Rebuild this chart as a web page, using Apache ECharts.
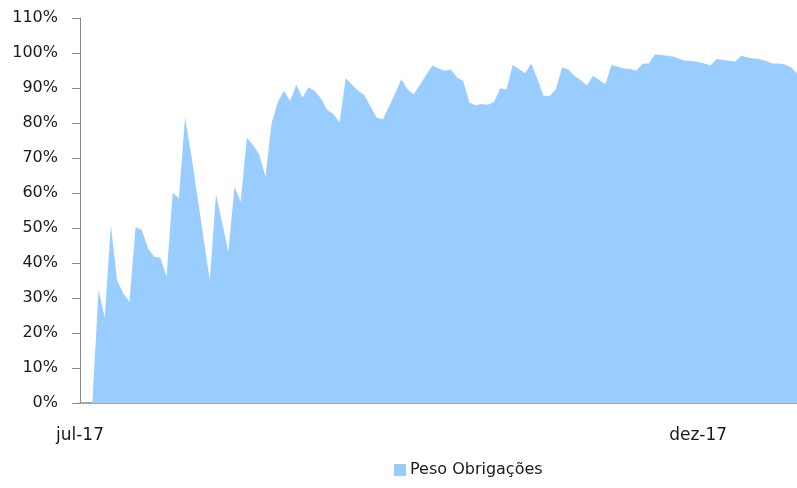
<!DOCTYPE html>
<html>
<head>
<meta charset="utf-8">
<script src="https://cdn.jsdelivr.net/npm/echarts@6/dist/echarts.min.js"></script>
<style>html,body{margin:0;padding:0;background:#fff}#c{width:797px;height:488px}</style>
</head>
<body>
<div id="c"></div>
<script>
const pesoObrigacoes = [
  0, 0, 0, 32.3, 24.5, 50.7, 35.1, 31.3, 28.9, 50.3,
  49.4, 44.2, 41.8, 41.5, 36.1, 60.1, 58.5, 81.5, 70.9, 59.0,
  47.0, 35.1, 59.6, 51.5, 43.2, 61.8, 57.5, 75.8, 73.7, 70.9,
  64.7, 79.9, 85.9, 89.2, 86.3, 90.9, 87.3, 90.2, 89.1, 87.0,
  83.7, 82.6, 80.2, 92.8, 91.0, 89.2, 88.0, 84.7, 81.5, 81.1,
  84.7, 88.5, 92.5, 89.6, 88.2, 90.9, 93.7, 96.4, 95.6, 94.9,
  95.3, 93.0, 92.0, 85.8, 85.1, 85.4, 85.2, 86.1, 89.9, 89.6,
  96.6, 95.4, 94.2, 97.0, 92.6, 87.8, 87.7, 89.7, 95.9, 95.3,
  93.4, 92.3, 90.7, 93.4, 92.3, 91.1, 96.6, 96.1, 95.6, 95.4,
  94.9, 96.9, 97.0, 99.6, 99.4, 99.2, 98.9, 98.3, 97.8, 97.7,
  97.4, 97.0, 96.4, 98.3, 98.0, 97.8, 97.6, 99.2, 98.7, 98.4,
  98.2, 97.7, 97.0, 97.0, 96.7, 95.9, 94.2
];
const tickIndex = [0, 100];
const tickText = ['jul-17', 'dez-17'];
const yTicks = [0, 10, 20, 30, 40, 50, 60, 70, 80, 90, 100, 110];
const seriesName = 'Peso Obrigações';

const categories = pesoObrigacoes.map((_, i) => String(i));
const FONT = 'DejaVu Sans';
const chart = echarts.init(document.getElementById('c'), null, {renderer: 'canvas'});
chart.setOption({
  animation: false,
  backgroundColor: '#ffffff',
  textStyle: {fontFamily: FONT},
  grid: {left: 80, right: 0, top: 18, bottom: 85, containLabel: false},
  legend: {
    data: [{name: seriesName, icon: 'rect'}],
    left: 394, top: 462, padding: 0,
    itemWidth: 12, itemHeight: 12, itemGap: 10,
    textStyle: {fontFamily: FONT, fontSize: 16, color: '#1a1a1a', padding: [0, 0, 0, -1]}
  },
  xAxis: {
    type: 'category',
    data: categories,
    boundaryGap: false,
    axisLine: {show: true, lineStyle: {color: '#898989', width: 1.5}},
    axisTick: {show: false},
    splitLine: {show: false},
    axisLabel: {
      interval: (i) => tickIndex.indexOf(i) >= 0,
      formatter: (v, i) => { const k = tickIndex.indexOf(Number(v)); return k >= 0 ? tickText[k] : ''; },
      fontFamily: FONT, fontSize: 17, color: '#1a1a1a', margin: 24
    }
  },
  yAxis: {
    type: 'value',
    min: yTicks[0], max: yTicks[yTicks.length - 1], interval: yTicks[1] - yTicks[0],
    axisLine: {show: true, lineStyle: {color: '#898989', width: 1}},
    axisTick: {show: true, length: 8, lineStyle: {color: '#898989'}},
    splitLine: {show: false},
    axisLabel: {formatter: '{value}%', fontFamily: FONT, fontSize: 16, color: '#1a1a1a', margin: 22}
  },
  series: [{
    name: seriesName,
    type: 'line',
    data: pesoObrigacoes,
    showSymbol: false,
    symbol: 'none',
    lineStyle: {width: 0, color: '#99CCFF'},
    itemStyle: {color: '#99CCFF'},
    areaStyle: {color: '#99CCFF', opacity: 1},
    z: 1
  }]
});
</script>
</body>
</html>
